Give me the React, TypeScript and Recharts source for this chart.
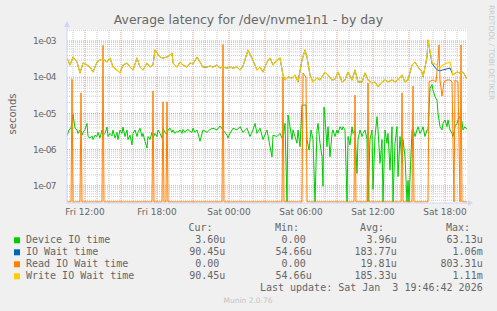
import React from "react"
import { ComposedChart, Line, XAxis, YAxis, CartesianGrid, ReferenceLine } from "recharts"

// time = minutes relative to Sat 00:00, values in microseconds (0 = no latency)
const xTicks = [-720, -360, 0, 360, 720, 1080]
const xTickLabels = ["Fri 12:00", "Fri 18:00", "Sat 00:00", "Sat 06:00", "Sat 12:00", "Sat 18:00"]
const majorX = [-720, -540, -360, -180, 0, 180, 360, 540, 720, 900, 1080]
const minorX = [
  -780, -660, -600, -480, -420, -300, -240, -120, -60, 60, 120, 240, 300, 420, 480, 600, 660, 780, 840, 960, 1020,
  1140,
]
const yTicks = [1e-7, 1e-6, 1e-5, 1e-4, 1e-3]
const minorY = [
  4e-8, 5e-8, 6e-8, 7e-8, 8e-8, 9e-8, 2e-7, 3e-7, 4e-7, 5e-7, 6e-7, 7e-7, 8e-7, 9e-7, 2e-6, 3e-6, 4e-6, 5e-6, 6e-6,
  7e-6, 8e-6, 9e-6, 2e-5, 3e-5, 4e-5, 5e-5, 6e-5, 7e-5, 8e-5, 9e-5, 2e-4, 3e-4, 4e-4, 5e-4, 6e-4, 7e-4, 8e-4, 9e-4,
  2e-3,
]

const deviceMin = [
  -810, -800, -790, -780, -770, -760, -755, -745, -735, -730, -720, -710, -705, -695, -685, -680, -670, -660, -655,
  -645, -635, -630, -620, -610, -605, -595, -585, -580, -570, -560, -555, -545, -535, -530, -520, -510, -505, -495,
  -485, -480, -470, -460, -455, -445, -435, -430, -420, -410, -405, -395, -385, -380, -370, -360, -355, -345, -335,
  -330, -320, -310, -305, -295, -285, -280, -270, -260, -255, -245, -235, -230, -220, -210, -205, -195, -185, -180,
  -170, -160, -155, -145, -130, -110, -95, -80, -60, -45, -30, -10, -5, 5, 20, 40, 55, 70, 90, 105, 120, 130, 140,
  155, 170, 190, 205, 215, 220, 240, 255, 265, 270, 280, 290, 295, 305, 315, 320, 330, 340, 345, 355, 365, 385, 390,
  400, 410, 420, 430, 440, 445, 455, 465, 470, 475, 480, 490, 495, 505, 515, 520, 530, 540, 545, 555, 565, 570, 580,
  590, 595, 605, 615, 620, 630, 640, 645, 655, 665, 670, 680, 690, 695, 705, 715, 720, 730, 740, 745, 755, 765, 770,
  780, 790, 795, 805, 815, 820, 830, 840, 845, 855, 865, 870, 880, 890, 895, 900, 915, 920, 930, 940, 945, 955, 965,
  970, 980, 990, 995, 1005, 1015, 1020, 1030, 1040, 1045, 1055, 1065, 1070, 1080, 1090, 1095, 1105, 1115, 1120, 1130,
  1140, 1145, 1155, 1165, 1170, 1180, 1190,
]
const deviceUs = [
  2.4, 3.5, 3.9, 9.5, 3.9, 3.5, 2.8, 3.5, 2.5, 3.0, 3.6, 5.3, 2.3, 2.1, 2.4, 1.9, 2.5, 2.3, 3.0, 2.1, 3.5, 2.5, 2.8,
  4.2, 2.3, 2.8, 2.4, 3.5, 2.1, 3.0, 1.9, 3.5, 2.8, 4.2, 2.3, 3.5, 1.9, 2.5, 1.35, 2.8, 3.5, 2.3, 3.0, 3.9, 2.3, 2.8,
  1.7, 1.1, 2.3, 1.9, 3.0, 2.1, 2.8, 2.3, 3.5, 2.8, 2.1, 3.9, 3.0, 2.5, 3.5, 3.9, 3.0, 3.5, 2.8, 3.2, 3.0, 3.5, 2.8,
  3.6, 3.0, 3.5, 3.6, 3.2, 3.0, 3.9, 3.0, 3.5, 2.8, 1.7, 3.5, 3.0, 3.6, 3.9, 3.5, 4.5, 3.5, 2.5, 2.1, 2.8, 3.9, 3.5,
  4.3, 3.0, 3.9, 2.3, 3.5, 5.3, 2.8, 3.9, 1.9, 3.5, 1.2, 0.63, 2.5, 2.3, 2.8, 2.1, 1.9, 5.3, 0, 9.0, 4.3, 1.9, 3.5,
  2.3, 1.5, 3.5, 1.2, 17, 17, 1.9, 0.97, 3.5, 1.9, 0, 3.5, 5.3, 1.5, 0.63, 0.097, 15, 7.3, 1.2, 4.3, 0.63, 2.8, 3.5,
  2.3, 3.5, 2.8, 4.3, 3.5, 4.3, 3.5, 0, 2.3, 1.35, 4.3, 2.8, 3.5, 0.22, 1.9, 3.5, 2.3, 2.8, 3.5, 1.9, 0, 1.9, 3.5,
  0.08, 2.3, 8.1, 3.5, 0.42, 1.9, 0, 3.5, 1.5, 2.8, 0.27, 4.3, 0, 1.5, 4.3, 0.18, 2.3, 0.42, 1.9, 0.63, 0, 0.14, 0,
  3.5, 3.9, 2.3, 3.5, 4.3, 2.8, 3.5, 4.3, 2.3, 3.5, 3.5, 49, 63.13, 44, 29, 23, 10, 4.3, 3.5, 5.3, 6.6, 4.3, 6.6, 3.5,
  2.8, 2.3, 4.3, 5.3, 6.6, 8.1, 5.9, 3.5, 4.3, 3.6,
]

const writeMin = [
  -810, -795, -780, -760, -745, -730, -710, -695, -680, -660, -645, -630, -610, -595, -580, -560, -545, -530, -510,
  -495, -480, -460, -445, -430, -410, -395, -380, -370, -345, -330, -310, -295, -285, -280, -260, -245, -230, -210,
  -195, -180, -160, -145, -130, -110, -95, -80, -60, -45, -30, -10, 5, 20, 40, 55, 70, 95, 115, 140, 155, 170, 190,
  205, 220, 240, 255, 270, 280, 295, 315, 330, 345, 365, 380, 390, 405, 420, 440, 455, 480, 495, 515, 530, 545, 565,
  580, 595, 615, 630, 645, 665, 680, 695, 715, 730, 745, 765, 780, 795, 815, 830, 845, 865, 880, 895, 915, 930, 945,
  965, 970, 990, 995, 1015, 1020, 1040, 1055, 1070, 1090, 1105, 1120, 1140, 1155, 1170, 1190,
]
const writeUs = [
  339, 217, 360, 263, 131, 247, 217, 191, 139, 263, 299, 318, 263, 339, 191, 158, 131, 217, 247, 191, 158, 339, 191,
  158, 247, 191, 217, 564, 360, 339, 360, 410, 466, 247, 191, 263, 217, 191, 247, 232, 360, 263, 191, 191, 204, 191,
  217, 179, 191, 179, 191, 179, 191, 158, 204, 564, 339, 158, 191, 139, 263, 339, 217, 299, 339, 115, 84, 101, 95, 115,
  74, 299, 564, 360, 115, 74, 95, 84, 139, 115, 84, 88, 139, 74, 84, 139, 84, 158, 74, 74, 131, 84, 69, 74, 54.66, 74,
  84, 74, 84, 74, 84, 115, 74, 84, 217, 263, 191, 139, 101, 360, 1110, 263, 247, 217, 179, 217, 247, 263, 115, 139,
  131, 139, 90.45,
]
const ioWaitUs = [
  339, 217, 360, 263, 131, 247, 217, 191, 139, 263, 299, 318, 263, 339, 191, 158, 131, 217, 247, 191, 158, 339, 191,
  158, 247, 191, 217, 564, 360, 339, 360, 410, 466, 247, 191, 263, 217, 191, 247, 232, 360, 263, 191, 191, 204, 191,
  217, 179, 191, 179, 191, 179, 191, 158, 204, 564, 339, 158, 191, 139, 263, 339, 217, 299, 339, 115, 84, 101, 95, 115,
  74, 299, 564, 360, 115, 74, 95, 84, 139, 115, 84, 88, 139, 74, 84, 139, 84, 158, 74, 74, 131, 84, 69, 74, 54.66, 74,
  84, 74, 84, 74, 84, 115, 74, 84, 217, 263, 191, 139, 101, 360, 1060, 240, 220, 160, 150, 160, 170, 180, 115, 139,
  131, 139, 90.45,
]

const readMin = [
  -810, -790, -785, -780, -745, -740, -735, -635, -630, -625, -385, -380, -375, -335, -330, -325, -315, -310, -305, -35,
  -30, -25, 265, 270, 275, 365, 370, 385, 390, 625, 630, 635, 690, 695, 700, 860, 865, 870, 915, 920, 925, 995, 1000,
  1020, 1035, 1045, 1050, 1055, 1065, 1075, 1090, 1105, 1115, 1125, 1130, 1145, 1155, 1160, 1165, 1190,
]
const readUs = [
  0, 0, 88, 0, 0, 37, 0, 0, 760, 0, 0, 42, 0, 0, 21, 0, 0, 21, 0, 0, 803.31, 0, 0, 103, 0, 0, 131, 100, 0, 0, 32, 0, 0,
  69, 0, 0, 37, 0, 0, 57, 0, 0, 74, 84, 74, 299, 780, 84, 30, 74, 84, 84, 74, 0, 84, 74, 0, 775, 0, 0,
]

const legendNames = ["Device IO time", "IO Wait time", "Read IO Wait time", "Write IO Wait time"]
const legendColors = ["#00cc00", "#0066b3", "#ff8000", "#ffcc00"]
const curText = ["3.60u", "90.45u", "0.00", "90.45u"]
const minText = ["0.00", "54.66u", "0.00", "54.66u"]
const avgText = ["3.96u", "183.77u", "19.81u", "185.33u"]
const maxText = ["63.13u", "1.06m", "803.31u", "1.11m"]

const X_DOMAIN = [-810, 1190]
const Y_DOMAIN = [3.35e-8, 2.15e-3]
const FLOOR = 3.6e-8 // zero can't sit on a log axis, park it on the bottom edge

const rows = (mins: number[], us: number[]) => mins.map((t, i) => ({ t, v: us[i] > 0 ? us[i] * 1e-6 : FLOOR }))

const deviceRows = rows(deviceMin, deviceUs)
const ioWaitRows = rows(writeMin, ioWaitUs)
const readRows = rows(readMin, readUs)
const writeRows = rows(writeMin, writeUs)

const fmtExp = (v: number) => {
  const e = Math.round(Math.log10(v))
  return "1e" + (e < 0 ? "-" : "+") + String(Math.abs(e)).padStart(2, "0")
}

const FONT = "DejaVu Sans"
const MONO = "DejaVu Sans Mono"
const TXT = "#666"
const AXIS = "#cfd6f8"
const GRID = "#c8c8c8"
const MGRID = "#e49a9a"

const cols = [225.3, 311.7, 396.7, 482.7]
const heads = ["Cur:", "Min:", "Avg:", "Max:"]
const valCols = [curText, minText, avgText, maxText]

export default function App() {
  return (
    <div style={{ position: "absolute", left: 0, top: 0, width: 497, height: 311, background: "#f0f0f0" }}>
      <ComposedChart width={497} height={311} margin={{ top: 29, right: 30, bottom: 88, left: 7 }}>
        <CartesianGrid fill="#ffffff" horizontal={false} vertical={false} />
        <XAxis
          type="number"
          dataKey="t"
          domain={X_DOMAIN}
          ticks={xTicks}
          allowDataOverflow
          height={20}
          tickLine={false}
          tickSize={4}
          tickMargin={2}
          axisLine={{ stroke: AXIS }}
          tick={{ fontSize: 9, fill: TXT, fontFamily: FONT }}
          tickFormatter={(v: number) => xTickLabels[xTicks.indexOf(v)]}
        />
        <YAxis
          type="number"
          scale="log"
          domain={Y_DOMAIN}
          ticks={yTicks}
          allowDataOverflow
          width={60}
          tickLine={false}
          tickSize={6}
          tickMargin={5}
          axisLine={{ stroke: AXIS }}
          tick={{ fontSize: 9, fill: TXT, fontFamily: FONT, letterSpacing: -0.6 }}
          tickFormatter={fmtExp}
        />
        {minorY.map((v) => (
          <ReferenceLine key={"my" + v} y={v} stroke={GRID} strokeDasharray="1 1" />
        ))}
        {minorX.map((t) => (
          <ReferenceLine key={"mx" + t} x={t} stroke={GRID} strokeDasharray="1 1" />
        ))}
        {yTicks.map((v) => (
          <ReferenceLine key={"My" + v} y={v} stroke={MGRID} strokeDasharray="1 1" />
        ))}
        {majorX.map((t) => (
          <ReferenceLine key={"Mx" + t} x={t} stroke={MGRID} strokeDasharray="1 1" />
        ))}
        <Line data={deviceRows} dataKey="v" name="Device IO time" stroke="#00cc00" strokeWidth={1} dot={false} isAnimationActive={false} />
        <Line data={ioWaitRows} dataKey="v" name="IO Wait time" stroke="#0066b3" strokeWidth={1} dot={false} isAnimationActive={false} />
        <Line data={readRows} dataKey="v" name="Read IO Wait time" stroke="#ff8000" strokeWidth={1} dot={false} isAnimationActive={false} />
        <Line data={writeRows} dataKey="v" name="Write IO Wait time" stroke="#ffcc00" strokeWidth={1.1} dot={false} isAnimationActive={false} />
      </ComposedChart>

      <svg width={497} height={311} style={{ position: "absolute", left: 0, top: 0, pointerEvents: "none" }}>
        <text x={248.4} y={24} textAnchor="middle" fontFamily={FONT} fontSize={12.4} fill={TXT}>
          Average latency for /dev/nvme1n1 - by day
        </text>
        <text transform="translate(15.5,114) rotate(-90)" textAnchor="middle" fontFamily={FONT} fontSize={10} fill={TXT}>
          seconds
        </text>
        <text transform="translate(488.5,52.5) rotate(90)" textAnchor="middle" fontFamily={FONT} fontSize={7.4} fill="#c8c8c8">
          RRDTOOL / TOBI OETIKER
        </text>
        <line x1={67} y1={27} x2={67} y2={29} stroke={AXIS} />
        <polygon points="64,27 70,27 67,21" fill={AXIS} />
        <line x1={467} y1={203} x2={468} y2={203} stroke={AXIS} />
        <polygon points="468,200 468,206 473,203" fill={AXIS} />

        {heads.map((h, i) => (
          <text key={h} x={cols[i] - 12.7} y={231} textAnchor="end" fontFamily={MONO} fontSize={10} fill={TXT}>
            {h}
          </text>
        ))}
        {legendNames.map((name, r) => (
          <g key={name}>
            <rect x={14} y={237.3 + r * 12} width={6} height={6} fill={legendColors[r]} />
            <text x={26} y={243 + r * 12} fontFamily={MONO} fontSize={10} fill={TXT}>
              {name}
            </text>
            {valCols.map((col, c) => (
              <text
                key={c}
                x={/[um]$/.test(col[r]) ? cols[c] : cols[c] - 6}
                y={243 + r * 12}
                textAnchor="end"
                fontFamily={MONO}
                fontSize={10}
                fill={TXT}
              >
                {col[r]}
              </text>
            ))}
          </g>
        ))}
        <text x={482.7} y={291} textAnchor="end" fontFamily={MONO} fontSize={10} fill={TXT} style={{ whiteSpace: "pre" }}>
          {"Last update: Sat Jan  3 19:46:42 2026"}
        </text>
        <text x={248} y={303} textAnchor="middle" fontFamily={FONT} fontSize={7.5} fill="#c4c4c4">
          Munin 2.0.76
        </text>
      </svg>
    </div>
  )
}
